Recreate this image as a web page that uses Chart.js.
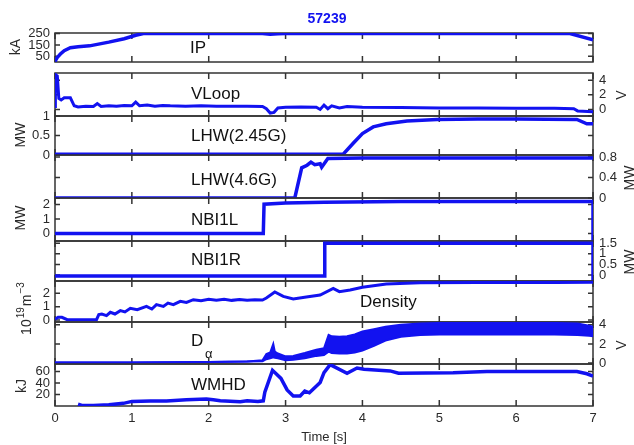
<!DOCTYPE html>
<html>
<head>
<meta charset="utf-8">
<script src="https://cdn.jsdelivr.net/npm/chart.js@4.4.1/dist/chart.umd.min.js"></script>
<style>
  body { margin: 0; background: #fff; }
  #wrap { position: relative; width: 634px; height: 445px; }
  #wrap canvas { position: absolute; left: 0; top: 0; }
</style>
</head>
<body>
<div id="wrap"></div>
<script>
// shot 57239 - time traces, one canvas per panel stacked on top of each other
const timeTicks = [0, 1, 2, 3, 4, 5, 6, 7];

const ipTime = [0, 0.03, 0.07, 0.12, 0.2, 0.3, 0.45, 0.7, 0.9, 1.05, 1.15, 2.7, 2.8, 2.9, 3.0, 6.7, 7.0];
const ipKA   = [5, 40, 70, 100, 125, 135, 142, 175, 205, 235, 250, 250, 243, 248, 250, 250, 195];
const ipTicks = [50, 150, 250];

const vloopTime = [0, 0.005, 0.03, 0.05, 0.08, 0.12, 0.2, 0.25, 0.3, 0.4, 0.5, 0.55, 0.6, 0.7, 0.8, 0.9, 1.0, 1.05, 1.1, 1.2, 1.3, 1.4, 1.5, 1.7, 1.9, 2.1, 2.3, 2.5, 2.7, 2.75, 2.8, 2.85, 2.9, 3.0, 3.2, 3.4, 3.45, 3.5, 3.55, 3.6, 3.7, 3.8, 4.0, 4.5, 5.0, 5.5, 6.0, 6.5, 6.75, 6.8, 7.0];
const vloopV    = [0.4, 4.8, 4.6, 1.5, 1.3, 1.6, 1.6, 0.5, 0.35, 0.45, 0.4, 0.8, 0.4, 0.5, 0.45, 0.55, 0.5, 1.0, 0.5, 0.6, 0.45, 0.55, 0.5, 0.45, 0.5, 0.45, 0.45, 0.45, 0.4, 0.1, -0.5, -0.4, 0.2, 0.3, 0.35, 0.3, 0.0, 0.6, 0.1, 0.5, 0.2, 0.4, 0.3, 0.25, 0.2, 0.2, 0.15, 0.15, 0.1, -0.2, -0.3];
const vloopTicks = [0, 2, 4];

const lhw245Time = [0, 3.75, 3.88, 4.0, 4.14, 4.31, 4.58, 4.97, 5.5, 6.0, 6.79, 6.92, 7.0];
const lhw245MW   = [0.02, 0.02, 0.3, 0.55, 0.72, 0.8, 0.87, 0.91, 0.92, 0.92, 0.91, 0.8, 0.8];
const lhw245Ticks = [0, 0.5, 1];

const lhw46Time = [0, 3.12, 3.21, 3.28, 3.33, 3.38, 3.45, 3.47, 3.55, 4.0, 5.0, 6.0, 7.0];
const lhw46MW   = [0, 0, 0.59, 0.64, 0.7, 0.65, 0.67, 0.6, 0.77, 0.78, 0.78, 0.78, 0.78];
const lhw46Ticks = [0, 0.4, 0.8];

const nbi1lTime = [0, 2.71, 2.72, 3.0, 3.5, 4.5, 7.0, 7.0];
const nbi1lMW   = [0, 0, 2.02, 2.1, 2.15, 2.2, 2.2, -0.55];
const nbi1lTicks = [0, 1, 2];

const nbi1rTime = [0, 3.5, 3.51, 7.0, 7.0];
const nbi1rMW   = [-0.05, -0.05, 1.5, 1.5, -0.3];
const nbi1rTicks = [0, 0.5, 1, 1.5];

const densTime = [0, 0.04, 0.09, 0.16, 0.54, 0.57, 0.61, 0.67, 0.72, 0.78, 0.85, 0.91, 0.98, 1.07, 1.19, 1.26, 1.32, 1.41, 1.47, 1.54, 1.63, 1.71, 1.8, 1.9, 2.0, 2.1, 2.2, 2.3, 2.4, 2.5, 2.6, 2.7, 2.75, 2.86, 2.97, 3.1, 3.27, 3.45, 3.62, 3.7, 3.84, 4.0, 4.31, 4.75, 5.5, 6.5, 7.0];
const densVal  = [0.05, 0.2, 0.2, 0.02, 0.02, 0.4, 0.45, 0.33, 0.58, 0.45, 0.7, 0.6, 0.87, 0.77, 1.02, 0.82, 1.15, 1.02, 1.27, 1.15, 1.4, 1.32, 1.52, 1.45, 1.55, 1.48, 1.55, 1.47, 1.53, 1.47, 1.52, 1.5, 1.65, 2.1, 1.77, 1.57, 1.72, 1.87, 2.37, 2.12, 2.25, 2.45, 2.7, 2.78, 2.8, 2.8, 2.82];
const densTicks = [0, 1, 2];

// D-alpha is a noisy band: upper and lower envelope
const daTime = [0, 1.0, 2.0, 2.5, 2.7, 2.75, 2.8, 2.84, 2.86, 2.9, 3.0, 3.1, 3.25, 3.4, 3.5, 3.56, 3.6, 3.7, 3.8, 3.9, 4.0, 4.15, 4.3, 4.5, 4.75, 5.0, 5.5, 6.0, 6.5, 6.8, 6.95, 7.0];
const daHigh = [0.05, 0.05, 0.1, 0.15, 0.3, 0.95, 1.1, 2.0, 1.2, 1.0, 0.7, 0.75, 1.05, 1.4, 1.55, 2.95, 2.8, 2.75, 2.8, 3.0, 3.3, 3.55, 3.8, 4.0, 4.15, 4.2, 4.25, 4.2, 4.2, 4.15, 3.9, 3.8];
const daLow  = [0.05, 0.05, 0.1, 0.15, 0.2, 0.4, 0.5, 0.6, 0.55, 0.5, 0.3, 0.35, 0.5, 0.75, 0.85, 1.2, 1.05, 1.0, 1.0, 1.1, 1.3, 1.8, 2.35, 2.75, 2.95, 3.0, 3.0, 3.0, 3.0, 2.95, 2.85, 2.8];
const daTicks = [0, 2, 4];

const wmhdTime = [0.3, 0.35, 0.5, 0.7, 0.89, 1.0, 1.24, 1.45, 1.71, 1.97, 2.06, 2.15, 2.41, 2.5, 2.64, 2.71, 2.73, 2.83, 2.94, 3.02, 3.1, 3.19, 3.25, 3.31, 3.45, 3.5, 3.58, 3.8, 3.93, 4.02, 4.36, 4.47, 5.18, 5.62, 6.48, 6.79, 6.92, 7.0];
const wmhdKJ   = [3, 1, 1, 2, 4.6, 8, 8.7, 8.7, 11, 12, 11, 9, 7.5, 9, 8, 9, 24, 62, 48, 28, 17.5, 17.5, 26, 23, 41, 58, 72, 57, 66, 64, 61, 57, 58, 60, 60, 60, 56, 52];
const wmhdTicks = [20, 40, 60];

const BLUE = '#1212f0';
const INK = '#2a2a2a';
const FONT = "'Liberation Sans', Arial, Helvetica, sans-serif";
Chart.defaults.font.family = FONT;
Chart.defaults.color = INK;

function pts(ts, vs) {
  return ts.map((t, i) => ({ x: t, y: vs[i] }));
}
function line(ts, vs, w) {
  return { data: pts(ts, vs), borderColor: BLUE, borderWidth: w || 3.5, pointRadius: 0, fill: false };
}

const panels = [
  { top: 33, bottom: 62, side: 'left', min: 0, max: 255, ticks: ipTicks, label: 'IP', lx: 190, ly: 48,
    unit: 'kA', ux: 16, uy: 47, sets: [line(ipTime, ipKA)] },
  { top: 73, bottom: 116, side: 'right', min: -0.9, max: 5, ticks: vloopTicks, label: 'VLoop', lx: 191, ly: 94,
    unit: 'V', ux: 622, uy: 95, sets: [line(vloopTime, vloopV, 3)] },
  { top: 116, bottom: 155, side: 'left', min: 0, max: 1, ticks: lhw245Ticks, label: 'LHW(2.45G)', lx: 191, ly: 136,
    unit: 'MW', ux: 21, uy: 135, sets: [line(lhw245Time, lhw245MW)] },
  { top: 155, bottom: 198, side: 'right', min: 0, max: 0.84, ticks: lhw46Ticks, label: 'LHW(4.6G)', lx: 191, ly: 180,
    unit: 'MW', ux: 630, uy: 178, sets: [line(lhw46Time, lhw46MW)] },
  { top: 198, bottom: 241, side: 'left', min: -0.52, max: 2.45, ticks: nbi1lTicks, label: 'NBI1L', lx: 191, ly: 220,
    unit: 'MW', ux: 21, uy: 218, sets: [line(nbi1lTime, nbi1lMW)] },
  { top: 241, bottom: 281, side: 'right', min: -0.28, max: 1.6, ticks: nbi1rTicks, label: 'NBI1R', lx: 191, ly: 260,
    unit: 'MW', ux: 630, uy: 262, sets: [line(nbi1rTime, nbi1rMW)] },
  { top: 281, bottom: 322, side: 'left', min: -0.15, max: 2.92, ticks: densTicks, label: 'Density', lx: 360, ly: 302,
    unit: null, ux: 27, uy: 308, sets: [line(densTime, densVal, 3)] },
  { top: 322, bottom: 364, side: 'right', min: -0.1, max: 4.3, ticks: daTicks, label: 'D', lx: 191, ly: 341,
    unit: 'V', ux: 622, uy: 345,
    sets: [line(daTime, daLow, 2), Object.assign(line(daTime, daHigh, 2), { fill: '-1', backgroundColor: BLUE })] },
  { top: 364, bottom: 406, side: 'left', min: 0, max: 73, ticks: wmhdTicks, label: 'WMHD', lx: 191, ly: 385,
    unit: 'kJ', ux: 22, uy: 386, sets: [line(wmhdTime, wmhdKJ)] },
];

function drawRotated(ctx, text, x, y, size) {
  ctx.save();
  ctx.translate(x, y);
  ctx.rotate(-Math.PI / 2);
  ctx.font = size + 'px ' + FONT;
  ctx.textAlign = 'center';
  ctx.textBaseline = 'middle';
  ctx.fillText(text, 0, 0);
  ctx.restore();
}

// 10^19 m^-3 written sideways with superscripts
function drawDensityUnit(ctx, x, y) {
  const parts = [['10', 14, 0], ['19', 10, -6], ['m', 14, 0], ['\u22123', 10, -6]];
  ctx.save();
  ctx.translate(x, y);
  ctx.rotate(-Math.PI / 2);
  ctx.textBaseline = 'middle';
  ctx.textAlign = 'left';
  let total = 0;
  parts.forEach(p => { ctx.font = p[1] + 'px ' + FONT; total += ctx.measureText(p[0]).width + 1; });
  let cx = -total / 2;
  parts.forEach(p => {
    ctx.font = p[1] + 'px ' + FONT;
    ctx.fillText(p[0], cx, p[2]);
    cx += ctx.measureText(p[0]).width + 1;
  });
  ctx.restore();
}

const wrap = document.getElementById('wrap');

function makePanel(p, idx) {
  const canvas = document.createElement('canvas');
  canvas.width = 634;
  canvas.height = 445;
  wrap.appendChild(canvas);
  const last = idx === panels.length - 1;
  const other = p.side === 'left' ? 'right' : 'left';

  const decor = {
    id: 'decor' + idx,
    beforeDatasetsDraw(chart) {
      const { ctx, chartArea: a, scales } = chart;
      ctx.save();
      ctx.strokeStyle = '#333';
      ctx.lineWidth = 1.5;
      ctx.strokeRect(a.left, a.top, a.right - a.left, a.bottom - a.top);
      ctx.beginPath();
      timeTicks.forEach(t => {
        const x = scales.x.getPixelForValue(t);
        ctx.moveTo(x, a.top); ctx.lineTo(x, a.top + 6);
        ctx.moveTo(x, a.bottom); ctx.lineTo(x, a.bottom - 6);
      });
      p.ticks.forEach(v => {
        const y = scales.y.getPixelForValue(v);
        ctx.moveTo(a.left, y); ctx.lineTo(a.left + 5, y);
        ctx.moveTo(a.right, y); ctx.lineTo(a.right - 5, y);
      });
      ctx.stroke();
      ctx.restore();
    },
    afterDraw(chart) {
      const ctx = chart.ctx;
      ctx.save();
      ctx.fillStyle = '#111';
      ctx.font = '17px ' + FONT;
      ctx.textAlign = 'left';
      ctx.textBaseline = 'middle';
      ctx.fillText(p.label, p.lx, p.ly);
      if (p.label === 'D') {
        ctx.font = '13px ' + FONT;
        ctx.fillText('\u03b1', 205, 354);
      }
      ctx.fillStyle = INK;
      if (p.unit) drawRotated(ctx, p.unit, p.ux, p.uy, 14);
      else drawDensityUnit(ctx, p.ux, p.uy);
      if (idx === 0) {
        ctx.fillStyle = BLUE;
        ctx.font = 'bold 14px ' + FONT;
        ctx.textAlign = 'center';
        ctx.fillText('57239', 327, 19);
      }
      ctx.restore();
    }
  };

  const yAxis = (pos, show) => ({
    type: 'linear',
    position: pos,
    min: p.min,
    max: p.max,
    afterBuildTicks: s => { s.ticks = p.ticks.map(v => ({ value: v })); },
    afterFit: s => { s.width = pos === 'left' ? 55 : 41; },
    grid: { display: false, drawTicks: false },
    border: { display: false },
    ticks: {
      display: show, autoSkip: false, padding: pos === 'left' ? 5 : 6,
      font: { size: 13 }, color: INK, callback: v => String(v)
    }
  });

  return new Chart(canvas, {
    type: 'line',
    data: { datasets: p.sets },
    options: {
      responsive: false,
      animation: false,
      events: [],
      layout: { padding: { top: p.top, bottom: last ? 0 : 445 - p.bottom, left: 0, right: 0 } },
      plugins: { legend: { display: false }, tooltip: { enabled: false } },
      scales: {
        x: {
          type: 'linear',
          min: 0,
          max: 7,
          display: last,
          afterBuildTicks: s => { s.ticks = timeTicks.map(v => ({ value: v })); },
          afterFit: s => { if (last) s.height = 445 - p.bottom; },
          grid: { display: false, drawTicks: false },
          border: { display: false },
          ticks: { padding: 5, maxRotation: 0, autoSkip: false, font: { size: 13 }, color: INK },
          title: { display: true, text: 'Time [s]', font: { size: 13 }, color: INK, padding: { top: 0, bottom: 0 } }
        },
        y: yAxis(p.side, true),
        y2: yAxis(other, false)
      }
    },
    plugins: [decor]
  });
}

document.addEventListener('DOMContentLoaded', () => {
  panels.forEach(makePanel);
});
</script>
</body>
</html>
